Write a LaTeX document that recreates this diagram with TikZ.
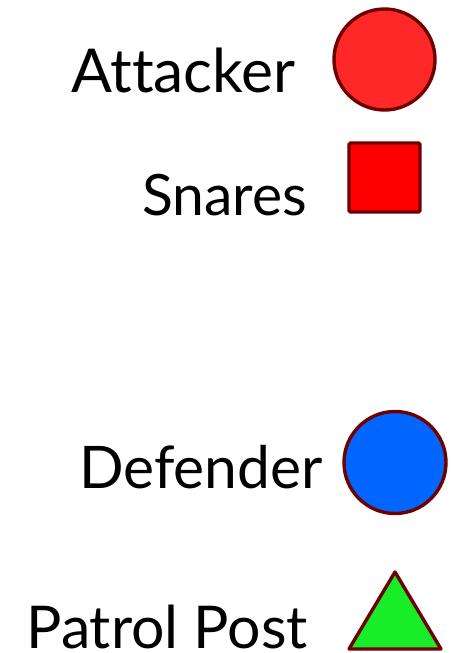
\documentclass[tikz,border=0pt]{standalone}
\usepackage{fontspec}
\setmainfont[Ligatures=NoCommon]{Lato}
\definecolor{edgered}{RGB}{110,0,0}
\definecolor{attred}{RGB}{255,40,40}
\definecolor{snarered}{RGB}{255,0,0}
\definecolor{defblue}{RGB}{0,102,255}
\definecolor{postgreen}{RGB}{24,238,40}
\begin{document}
\begin{tikzpicture}[x=1pt,y=-1pt,
  lbl/.style={anchor=base east,inner sep=0pt,font=\fontsize{59}{59}\selectfont},
  shp/.style={draw=edgered,line width=3.4pt}]
\useasboundingbox (0,0) rectangle (453,653);
\node[lbl,font=\fontsize{60.5}{60.5}\selectfont] (att) at (296,92) {Attacker};
\node[lbl,font=\fontsize{57}{57}\selectfont] (sna) at (307,215) {Snares};
\node[lbl,font=\fontsize{58.7}{58.7}\selectfont] (def) at (323,488) {Defender};
\node[lbl,font=\fontsize{59}{59}\selectfont] (pat) at (308,648) {Patrol Post};
\draw[shp,fill=attred] (384.5,59.5) circle (50.5);
\draw[shp,fill=snarered,rounded corners=1.5pt] (349,143) rectangle (420,212);
\draw[shp,fill=defblue] (395,462.5) circle (51);
\draw[shp,fill=postgreen,line join=round] (395,572) -- (441,649) -- (349,649) -- cycle;
\end{tikzpicture}
\end{document}
